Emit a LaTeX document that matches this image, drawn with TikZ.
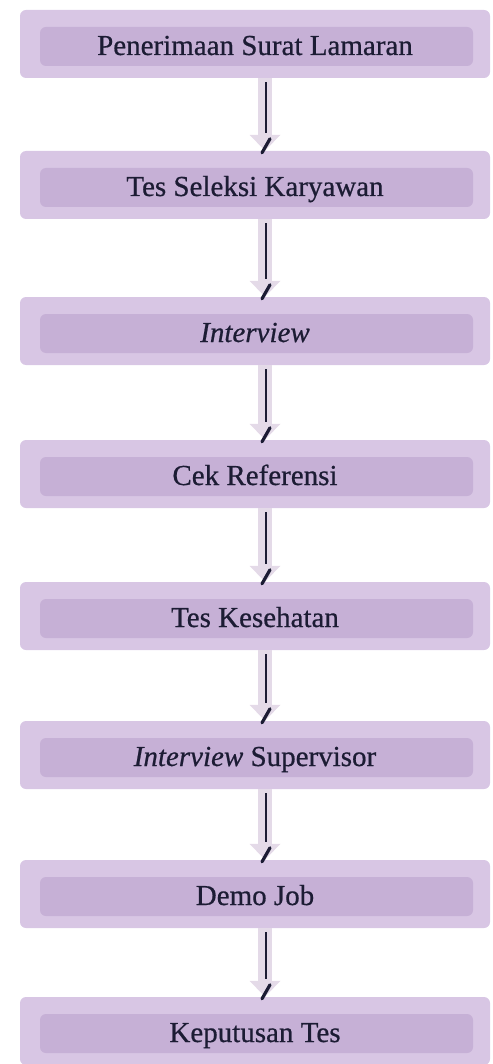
\documentclass[tikz,border=0pt]{standalone}
\usepackage{fontspec}
\setmainfont{Liberation Serif}[FakeBold=0.6]
\usetikzlibrary{calc,arrows.meta}
\definecolor{boxouter}{RGB}{216,198,228}
\definecolor{boxinner}{RGB}{198,176,214}
\definecolor{ink}{RGB}{28,28,52}
\definecolor{shaft}{RGB}{228,218,232}
\begin{document}
\begin{tikzpicture}[x=1pt,y=-1pt,
  stepbox/.style={rounded corners=6pt, fill=boxouter, minimum width=470pt,
    minimum height=68pt, inner sep=0pt, text=ink,
    text height=22pt, text depth=0pt,
    font=\fontsize{29}{32}\selectfont,
    path picture={\fill[boxinner]
      ([xshift=20pt,yshift=-17pt]path picture bounding box.north west) rectangle
      ([xshift=-17pt,yshift=12pt]path picture bounding box.south east);}},
  shaftline/.style={draw=shaft, line width=14pt,
    -{Triangle[width=30pt,length=16pt,fill=shaft]}},
  inkline/.style={draw=ink, line width=2.6pt},
  tickmark/.style={draw=ink, line width=3.2pt, line cap=round}]
\useasboundingbox (0,0) rectangle (492,1064);

\node[stepbox] (n1) at (255,44)   {Penerimaan Surat Lamaran};
\node[stepbox] (n2) at (255,185)  {Tes Seleksi Karyawan};
\node[stepbox] (n3) at (255,331)  {\itshape Interview};
\node[stepbox] (n4) at (255,474)  {Cek Referensi};
\node[stepbox] (n5) at (255,616)  {Tes Kesehatan};
\node[stepbox] (n6) at (255,755)  {\textit{Interview} Supervisor};
\node[stepbox] (n7) at (255,894)  {Demo Job};
\node[stepbox] (n8) at (255,1031) {Keputusan Tes};

% connectors: pale block arrow with a dark stroke and a slanted tip mark
\foreach \a/\b in {n1/n2,n2/n3,n3/n4,n4/n5,n5/n6,n6/n7,n7/n8}{
  \draw[shaftline] ($(\a.south)+(10,0)$) -- ($(\b.north)+(10,0)$);
  \draw[inkline] ($(\a.south)+(11,4)$) -- ($(\b.north)+(11,-18)$);
  \draw[tickmark] ($(\b.north)+(15,-12)$) -- ($(\b.north)+(7,2)$);
}
\end{tikzpicture}
\end{document}
